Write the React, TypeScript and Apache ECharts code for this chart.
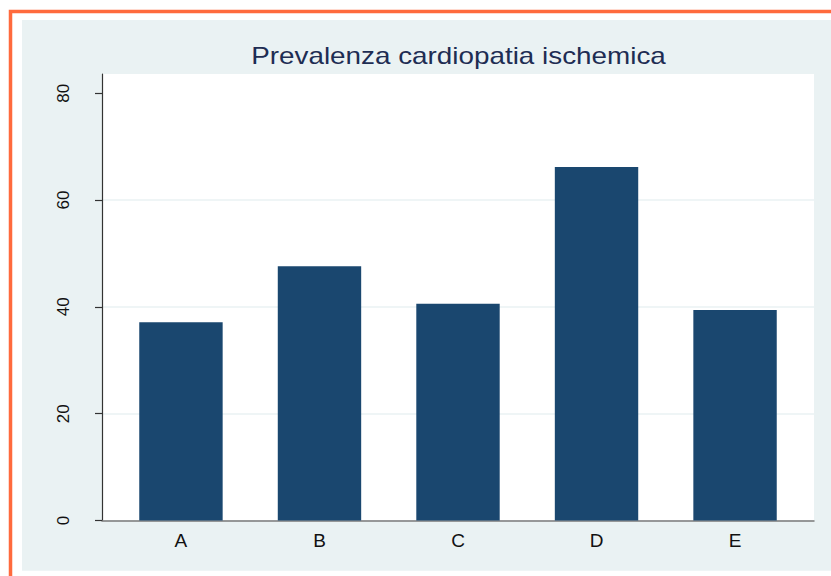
import React, { useEffect, useRef } from "react";
import * as echarts from "echarts";

const categories = ["A", "B", "C", "D", "E"];
const prevalence = [37.1, 47.6, 40.6, 66.2, 39.4];
const yTicks = [0, 20, 40, 60, 80];
const titleText = "Prevalenza cardiopatia ischemica";

export default function App() {
  const ref = useRef<HTMLDivElement>(null);
  useEffect(() => {
    if (!ref.current) return;
    const chart = echarts.init(ref.current, null, { renderer: "svg" });
    const catIdx = categories.map((_, i) => i);
    chart.setOption({
      animation: false,
      backgroundColor: "#ffffff",
      textStyle: { fontFamily: "Liberation Sans, Arial, sans-serif" },
      graphic: [
        {
          type: "rect",
          z: -2,
          silent: true,
          shape: { x: 10.5, y: 11.5, width: 900, height: 700 },
          style: { fill: "none", stroke: "#ff6a3d", lineWidth: 3.5 },
        },
        {
          type: "rect",
          z: -1,
          silent: true,
          shape: { x: 22, y: 20, width: 830, height: 550.7 },
          style: { fill: "#eaf2f3" },
        },
        {
          type: "text",
          z: 10,
          x: 458.5,
          y: 56,
          scaleX: 1.16,
          style: {
            text: titleText,
            fontFamily: "Liberation Sans, Arial, sans-serif",
            fontSize: 24,
            fill: "#1e2d53",
            align: "center",
            verticalAlign: "middle",
          },
        },
      ],
      grid: {
        left: 102,
        top: 74,
        right: 17,
        bottom: 55.5,
        show: true,
        backgroundColor: "#ffffff",
        borderWidth: 0,
        containLabel: false,
      },
      xAxis: {
        type: "value",
        min: -0.57,
        max: 4.57,
        axisLine: { show: true, onZero: false, lineStyle: { color: "#7a7a7a", width: 1.5 } },
        axisTick: { show: false },
        splitLine: { show: false },
        axisLabel: {
          customValues: catIdx,
          formatter: (v: number) => categories[Math.round(v)] ?? "",
          color: "#111111",
          fontSize: 19,
          margin: 10,
        },
      },
      yAxis: {
        type: "value",
        min: 0,
        max: 83.6,
        interval: 20,
        axisLine: { show: true, onZero: false, lineStyle: { color: "#333333", width: 1.2 } },
        axisTick: {
          show: true,
          customValues: yTicks,
          length: 7,
          lineStyle: { color: "#333333", width: 1.2 },
        },
        axisLabel: {
          customValues: yTicks,
          rotate: 90,
          color: "#111111",
          fontSize: 17,
          margin: 30,
        },
        splitLine: {
          show: true,
          lineStyle: {
            color: ["#eaf2f3", "#eaf2f3", "#eaf2f3", "#eaf2f3", "#ffffff", "#ffffff"],
            width: 1.5,
          },
        },
      },
      series: [
        {
          type: "bar",
          data: prevalence.map((v, i) => [i, v]),
          barWidth: 83.4,
          itemStyle: { color: "#1a476f" },
        },
      ],
    });
    return () => chart.dispose();
  }, []);
  return (
    <div
      ref={ref}
      style={{ position: "absolute", left: 0, top: 0, width: 831, height: 576 }}
    />
  );
}
